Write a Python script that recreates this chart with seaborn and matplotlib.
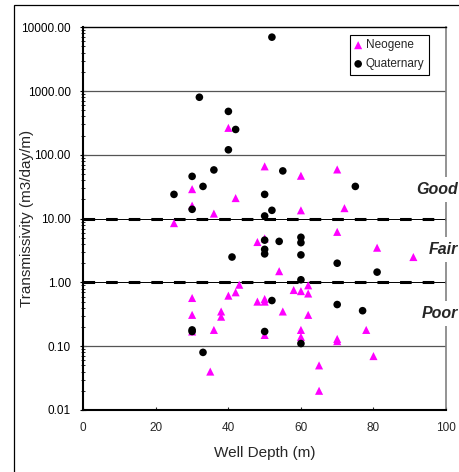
import numpy as np
import pandas as pd
import matplotlib
matplotlib.use("Agg")
import matplotlib.pyplot as plt
import seaborn as sns
from matplotlib.ticker import LogLocator, FuncFormatter, NullFormatter, FixedLocator
from matplotlib.transforms import blended_transform_factory
from matplotlib.patches import Rectangle

# ---------------- data ----------------
neo_depth = [25, 30, 30, 30, 30, 30, 35, 36, 36, 38, 38, 40, 40, 42, 42, 43,
             48, 48, 50, 50, 50, 50, 50, 54, 55, 58, 60, 60, 60, 60, 60,
             62, 62, 62, 65, 65, 70, 70, 70, 70, 72, 78, 80, 81, 91]
neo_trans = [8.5, 29, 16, 0.57, 0.31, 0.17, 0.04, 12, 0.18, 0.35, 0.29, 265, 0.62, 21, 0.70, 0.92,
             4.3, 0.5, 66, 4.9, 0.55, 0.5, 0.15, 1.5, 0.35, 0.76, 47, 13.5, 0.73, 0.18, 0.14,
             0.9, 0.67, 0.31, 0.05, 0.02, 59, 6.2, 0.13, 0.12, 14.6, 0.18, 0.07, 3.5, 2.5]

qua_depth = [25, 30, 30, 30, 30, 32, 33, 33, 36, 40, 40, 41, 42, 50, 50, 50, 50, 50, 50,
             52, 52, 52, 54, 55, 60, 60, 60, 60, 60, 70, 70, 75, 77, 81]
qua_trans = [24, 46, 14, 0.18, 0.17, 800, 32, 0.08, 58, 480, 120, 2.5, 250, 24, 11, 4.6, 3.3, 2.8, 0.17,
             7000, 13.5, 0.52, 4.4, 56, 5.1, 4.2, 2.7, 1.1, 0.11, 2.0, 0.45, 32, 0.36, 1.45]

series_names = ["Neogene", "Quaternary"]
grid_levels = [1000, 100, 0.1]
thresholds = [10, 1]
class_labels = ["Good", "Fair", "Poor"]
class_label_y = [28.7, 3.3, 0.327]
x_ticks = [0, 20, 40, 60, 80, 100]

df_neo = pd.DataFrame({"depth": neo_depth, "trans": neo_trans})
df_qua = pd.DataFrame({"depth": qua_depth, "trans": qua_trans})

# ---------------- style ----------------
sns.set_style("white")
plt.rcParams["font.family"] = ["Liberation Sans", "DejaVu Sans"]

fig = plt.figure(figsize=(4.59, 4.72), dpi=100)
ax = fig.add_axes([0.1815, 0.1314, 0.7902, 0.8108])

# outer chart frame (clipped at right/bottom like the reference)
fig.add_artist(Rectangle((14 / 459, -0.5), 2.0, 0.9894 + 0.5, transform=fig.transFigure,
                         fill=False, ec="black", lw=0.9))

sns.scatterplot(data=df_neo, x="depth", y="trans", marker="^", color="#FF00FF", s=34,
                edgecolor="none", label=series_names[0], ax=ax, zorder=3)
sns.scatterplot(data=df_qua, x="depth", y="trans", marker="o", color="black", s=30,
                edgecolor="none", label=series_names[1], ax=ax, zorder=4)

ax.set_yscale("log")
ax.set_ylim(0.01, 10000)
ax.set_xlim(0, 100)

for g in grid_levels:
    ax.axhline(g, color="#555555", lw=0.9, zorder=1)
for t in thresholds:
    ax.axhline(t, color="black", lw=0.7, zorder=2)
    ax.axhline(t, color="black", lw=2.2, ls=(0, (3.8, 3.6)), zorder=2)

# ticks
ax.yaxis.set_major_locator(LogLocator(base=10, numticks=10))
ax.yaxis.set_minor_locator(LogLocator(base=10, subs=np.arange(2, 10), numticks=10))
ax.yaxis.set_major_formatter(FuncFormatter(lambda v, p: f"{v:.2f}"))
ax.yaxis.set_minor_formatter(NullFormatter())
ax.xaxis.set_major_locator(FixedLocator(x_ticks))
ax.tick_params(axis="y", which="major", direction="inout", length=4.5, width=0.8,
               labelsize=8.5, pad=6.8, left=True, colors="black")
ax.tick_params(axis="y", which="minor", direction="inout", length=2.5, width=0.7, left=True)
ax.tick_params(axis="x", which="major", direction="in", length=2.5, width=0.8,
               labelsize=8.5, pad=8.8, bottom=True)

# spines
for side in ["left", "bottom"]:
    ax.spines[side].set_linewidth(1.5)
    ax.spines[side].set_color("black")
ax.spines["top"].set_linewidth(1.0)
ax.spines["top"].set_color("black")
ax.spines["right"].set_linewidth(1.2)
ax.spines["right"].set_color("#808080")

ax.set_xlabel("Well Depth (m)", fontsize=11)
ax.set_ylabel("Transmissivity (m3/day/m)", fontsize=11)
ax.xaxis.set_label_coords(0.5, -0.093)
ax.yaxis.set_label_coords(-0.136, 0.5)

leg = ax.legend(loc="upper left", bbox_to_anchor=(0.735, 0.981), borderaxespad=0,
                frameon=True, fancybox=False, edgecolor="black", framealpha=1,
                fontsize=8.5, handlelength=0.6, handletextpad=0.35, borderpad=0.4,
                labelspacing=0.57)
leg.get_frame().set_linewidth(0.8)

tr = blended_transform_factory(fig.transFigure, ax.transData)
for lab, yv in zip(class_labels, class_label_y):
    ax.text(458 / 459, yv, lab, transform=tr, ha="right", va="center", fontsize=11.5,
            fontweight="bold", fontstyle="italic", zorder=6,
            bbox=dict(boxstyle="square,pad=0.3", fc="white", ec="none"))

fig.savefig("out.png", dpi=100)
